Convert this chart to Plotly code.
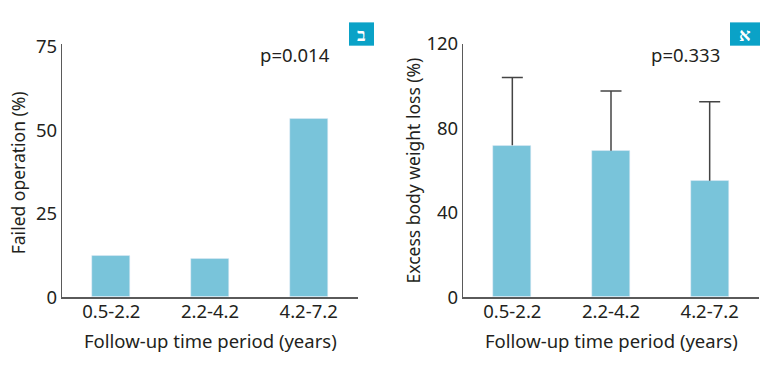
import plotly.graph_objects as go

categories = ["0.5-2.2", "2.2-4.2", "4.2-7.2"]
failed_pct = [12.5, 11.4, 53.5]
ebwl_mean = [71.9, 69.3, 55.1]
ebwl_upper = [104.0, 97.6, 92.5]
left_ticks = [0, 25, 50, 75]
right_ticks = [0, 40, 80, 120]

BAR = "#79c4da"
TXT = "#231f20"
AX = "#5a5a5a"
ERR = "#444444"
BADGE = "#0aa2c7"
FONT = "Noto Sans"
FS = 18.5

W, H = 769, 365
def px(x): return x / W
def py(y): return 1 - y / H

fig = go.Figure()
fig.add_trace(go.Bar(x=categories, y=failed_pct, marker_color=BAR, width=0.385,
                     xaxis="x", yaxis="y", showlegend=False))
fig.add_trace(go.Bar(x=categories, y=ebwl_mean, marker_color=BAR, width=0.385,
                     xaxis="x2", yaxis="y2", showlegend=False))

ex, ey = [], []
for c, m, u in zip(categories, ebwl_mean, ebwl_upper):
    ex += [c, c, None]
    ey += [m, u, None]
fig.add_trace(go.Scatter(x=ex, y=ey, mode="lines", line=dict(color=ERR, width=1.5),
                         xaxis="x2", yaxis="y2", showlegend=False, hoverinfo="skip"))
fig.add_trace(go.Scatter(x=categories, y=ebwl_upper, mode="markers",
                         marker=dict(symbol="line-ew", size=15, line=dict(color=ERR, width=1.5)),
                         xaxis="x2", yaxis="y2", showlegend=False))

ydom = [py(304), py(32)]
common_x = dict(showline=True, linecolor=AX, linewidth=1.5, ticks="outside", ticklen=0,
                ticklabelstandoff=-3, tickfont=dict(size=FS, color=TXT, family=FONT),
                showgrid=False, zeroline=False, range=[-0.5, 2.5], fixedrange=True)
common_y = dict(showline=True, linecolor=AX, linewidth=1.2, ticks="", showgrid=False,
                zeroline=False, tickfont=dict(size=FS, color=TXT, family=FONT),
                domain=ydom)

fig.update_layout(
    width=W, height=H, margin=dict(l=0, r=0, t=0, b=0),
    paper_bgcolor="white", plot_bgcolor="white",
    font=dict(family=FONT, color=TXT),
    bargap=0,
    xaxis=dict(domain=[px(62), px(358)], anchor="y", **common_x),
    yaxis=dict(range=[0, 75.8], tickvals=left_ticks, anchor="x", **common_y),
    xaxis2=dict(domain=[px(463), px(759)], anchor="y2", **common_x),
    yaxis2=dict(range=[0, 120], tickvals=right_ticks, anchor="x2", **common_y),
)

ann = []
for xc in (210, 611):
    ann.append(dict(text="Follow-up time period (years)", x=px(xc), y=py(351), xref="paper", yref="paper",
                    showarrow=False, font=dict(size=FS, color=TXT), xanchor="center", yanchor="middle"))
ann.append(dict(text="Failed operation (%)", x=px(18), y=py(171), xref="paper", yref="paper",
                showarrow=False, textangle=-90, font=dict(size=17.5, color=TXT),
                xanchor="center", yanchor="middle"))
ann.append(dict(text="Excess body weight loss (%)", x=px(413), y=py(168), xref="paper", yref="paper",
                showarrow=False, textangle=-90, font=dict(size=17.5, color=TXT),
                xanchor="center", yanchor="middle"))
ann.append(dict(text="p=0.014", x=px(295), y=py(43), xref="paper", yref="paper",
                showarrow=False, font=dict(size=FS, color=TXT), xanchor="center", yanchor="middle"))
ann.append(dict(text="p=0.333", x=px(685), y=py(43), xref="paper", yref="paper",
                showarrow=False, font=dict(size=FS, color=TXT), xanchor="center", yanchor="middle"))
ann.append(dict(text="<b>ב</b>", x=px(361.5), y=py(21.5), xref="paper", yref="paper",
                showarrow=False, font=dict(size=18, color="white"), xanchor="center", yanchor="middle"))
ann.append(dict(text="<b>א</b>", x=px(745), y=py(21.5), xref="paper", yref="paper",
                showarrow=False, font=dict(size=18, color="white"), xanchor="center", yanchor="middle"))
fig.update_layout(annotations=ann)

fig.update_layout(shapes=[
    dict(type="rect", xref="paper", yref="paper", x0=px(349), x1=px(374), y0=py(34), y1=py(9),
         fillcolor=BADGE, line=dict(width=0), layer="below"),
    dict(type="rect", xref="paper", yref="paper", x0=px(730), x1=px(760), y0=py(34), y1=py(9),
         fillcolor=BADGE, line=dict(width=0), layer="below"),
])

fig.write_html("out.html", config={"displayModeBar": False},
               post_script="document.body.style.margin='0px';")
